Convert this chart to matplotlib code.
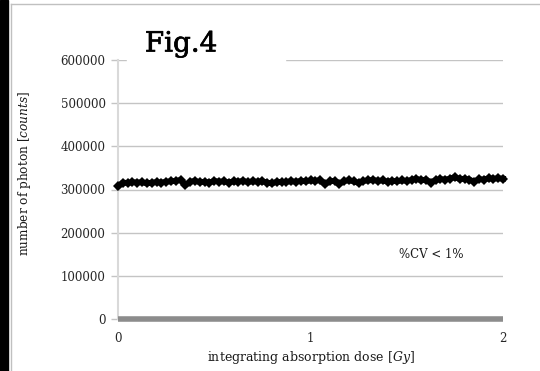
import numpy as np
import matplotlib
matplotlib.use("Agg")
import matplotlib.pyplot as plt
import matplotlib.patheffects as pe
from matplotlib.patches import Rectangle
from matplotlib.lines import Line2D

plt.rcParams['font.family'] = ['DejaVu Serif']
plt.rcParams['mathtext.fontset'] = 'custom'
plt.rcParams['mathtext.rm'] = 'DejaVu Serif'
plt.rcParams['mathtext.it'] = 'DejaVu Serif:italic'

# integrating absorption dose [Gy]
dose = [0.000, 0.025, 0.050, 0.075, 0.100, 0.125, 0.150, 0.175, 0.200, 0.225,
        0.250, 0.275, 0.300, 0.325, 0.350, 0.375, 0.400, 0.425, 0.450, 0.475,
        0.500, 0.525, 0.550, 0.575, 0.600, 0.625, 0.650, 0.675, 0.700, 0.725,
        0.750, 0.775, 0.800, 0.825, 0.850, 0.875, 0.900, 0.925, 0.950, 0.975,
        1.000, 1.025, 1.050, 1.075, 1.100, 1.125, 1.150, 1.175, 1.200, 1.225,
        1.250, 1.275, 1.300, 1.325, 1.350, 1.375, 1.400, 1.425, 1.450, 1.475,
        1.500, 1.525, 1.550, 1.575, 1.600, 1.625, 1.650, 1.675, 1.700, 1.725,
        1.750, 1.775, 1.800, 1.825, 1.850, 1.875, 1.900, 1.925, 1.950, 1.975,
        2.000]
# number of photon [counts]
counts = [307000, 316000, 315000, 317000, 316000, 317000, 314000, 316000, 317000, 316000,
          318000, 319000, 320000, 322000, 310000, 318000, 320000, 317000, 318000, 316000,
          320000, 318000, 319000, 316000, 319000, 318000, 320000, 317000, 319000, 318000,
          319000, 316000, 314000, 318000, 317000, 318000, 319000, 318000, 320000, 319000,
          321000, 320000, 322000, 312000, 319000, 320000, 313000, 320000, 321000, 319000,
          315000, 320000, 321000, 322000, 320000, 321000, 318000, 320000, 319000, 321000,
          320000, 322000, 325000, 321000, 323000, 316000, 322000, 324000, 323000, 325000,
          329000, 324000, 325000, 323000, 318000, 324000, 323000, 326000, 325000, 326000,
          325000]

yticks = [0, 100000, 200000, 300000, 400000, 500000, 600000]
xticks = [0, 1, 2]

W, H = 540, 371
fig = plt.figure(figsize=(5.4, 3.71), dpi=100)

# page frame
fig.add_artist(Rectangle((0, 0), 8 / W, 1, transform=fig.transFigure, color='black', zorder=0))
fig.add_artist(Line2D([11 / W, 11 / W], [0, 1 - 4 / H], transform=fig.transFigure, color='#c0c0c0', lw=1.0))
fig.add_artist(Line2D([11 / W, 1], [1 - 4 / H, 1 - 4 / H], transform=fig.transFigure, color='#c0c0c0', lw=1.0))

ax = fig.add_axes([118 / W, 52 / H, 385 / W, 259 / H])
ax.set_xlim(0, 2)
ax.set_ylim(0, 600000)
ax.set_yticks(yticks)
ax.set_yticklabels([str(v) for v in yticks])
ax.set_xticks(xticks)
ax.set_xticklabels([str(v) for v in xticks])

ax.grid(axis='y', color='#c4c4c4', lw=1.0)
ax.set_axisbelow(True)
for s in ['top', 'right']:
    ax.spines[s].set_visible(False)
ax.spines['left'].set_color('#d9d9d9')
ax.spines['left'].set_linewidth(1.5)
ax.spines['bottom'].set_color('#8c8c8c')
ax.spines['bottom'].set_linewidth(4.0)
ax.spines['bottom'].set_capstyle('butt')
ax.tick_params(axis='y', length=5, color='#c4c4c4', width=1.0, labelsize=8.5, pad=4,
               labelcolor='#262626')
ax.tick_params(axis='x', length=0, labelsize=8.5, pad=9, labelcolor='#262626')

ax.plot(dose, counts, color='black', lw=4.2, marker='D', ms=5.5,
        markeredgewidth=0, clip_on=False, zorder=3)

ax.set_xlabel(r'integrating absorption dose [$\it{Gy}$]', fontsize=9, labelpad=3,
              color='#1a1a1a')
ax.set_ylabel(r'number of photon [$\it{counts}$]', fontsize=8.7, color='#1a1a1a')
ax.yaxis.set_label_coords((33 - 118) / 385, (319 - 173) / 259)

ax.text(431 / W, 1 - 254 / H, '%CV < 1%', transform=fig.transFigure,
        ha='center', va='center', fontsize=8.5, color='#1a1a1a')

# title with white box covering top gridline
fig.add_artist(Rectangle((127 / W, 1 - 70 / H), 158 / W, 22 / H,
                         transform=fig.transFigure, color='white', zorder=2))
fig.text(181 / W, 1 - 44 / H, 'Fig.4', ha='center', va='center',
         fontsize=20, fontweight='normal', zorder=3,
         path_effects=[pe.withStroke(linewidth=0.5, foreground='black')])

fig.savefig('out.png', dpi=100)
